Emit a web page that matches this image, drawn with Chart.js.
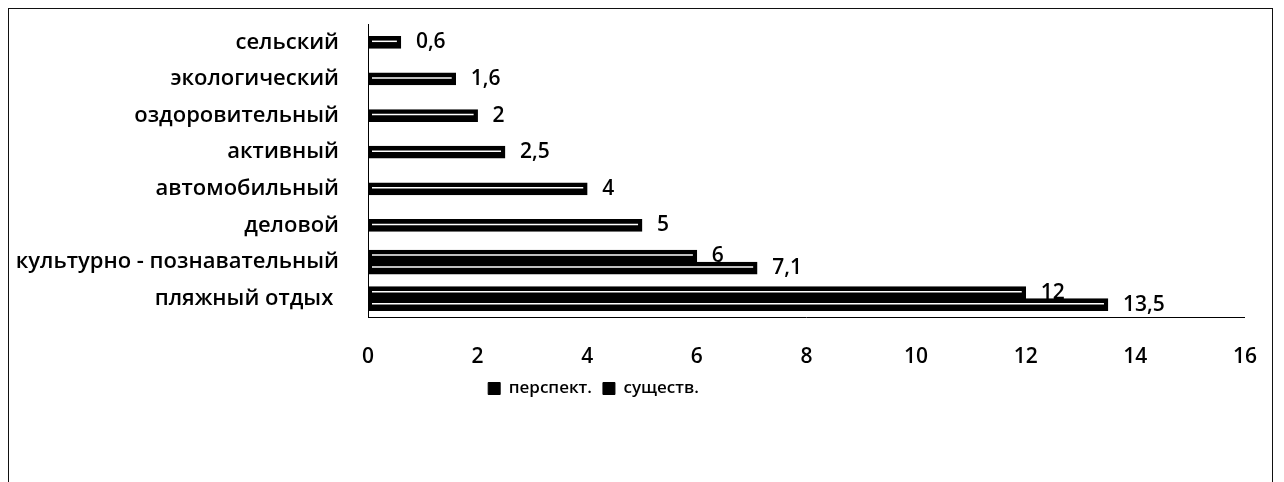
<!DOCTYPE html>
<html>
<head>
<meta charset="utf-8">
<script src="https://cdn.jsdelivr.net/npm/chart.js@4.4.1/dist/chart.umd.min.js"></script>
<style>
  html, body { margin: 0; padding: 0; background: #fff; overflow: hidden; }
  #frame { position: absolute; left: 8px; top: 8px; width: 1265px; height: 500px; border: 1px solid #111; box-sizing: border-box; }
  /* canvas starts a bit left of the page so the legend centres where the original has it */
  #wrap { position: absolute; left: -58px; top: 0; width: 1342px; height: 482px; }
</style>
</head>
<body>
<div id="frame"></div>
<div id="wrap"><canvas id="chart" width="1342" height="482"></canvas></div>
<script>
// data (top row first)
const categories = ['сельский', 'экологический', 'оздоровительный', 'активный',
  'автомобильный', 'деловой', 'культурно - познавательный', 'пляжный отдых '];
const existingValues = [0.6, 1.6, 2, 2.5, 4, 5, 6, 12];
const perspectiveValues = [null, null, null, null, null, null, 7.1, 13.5];
const xTickValues = [0, 2, 4, 6, 8, 10, 12, 14, 16];

const FONT = '"Open Sans", "DejaVu Sans", sans-serif';
const FS = 21;
const WEIGHT = '600';
const OFFSET = 58; // canvas shift, see css

// value labels at the end of each bar, comma as decimal mark
const valueLabels = {
  id: 'valueLabels',
  afterDatasetsDraw(chart) {
    const ctx = chart.ctx;
    ctx.save();
    chart.data.datasets.forEach((ds, i) => {
      const meta = chart.getDatasetMeta(i);
      meta.data.forEach((bar, j) => {
        const v = ds.data[j];
        if (v == null) return;
        // thin white streak inside the bar, like the scanned original
        ctx.strokeStyle = '#fff'; ctx.lineWidth = 1.5;
        ctx.beginPath(); ctx.moveTo(bar.base + 4, bar.y - 1); ctx.lineTo(bar.x - 4, bar.y - 1); ctx.stroke();
        ctx.fillStyle = '#000';
        ctx.font = WEIGHT + ' ' + FS + 'px ' + FONT;
        ctx.textAlign = 'left'; ctx.textBaseline = 'middle';
        ctx.fillText(String(v).replace('.', ','), bar.x + 15, bar.y);
      });
    });
    ctx.restore();
  }
};

Chart.defaults.font.family = FONT;
Chart.defaults.font.size = FS;
Chart.defaults.font.weight = WEIGHT;
Chart.defaults.color = '#000';

new Chart(document.getElementById('chart'), {
  type: 'bar',
  data: {
    labels: categories,
    datasets: [
      { label: 'существ.', data: existingValues, backgroundColor: '#000', borderColor: '#000', borderWidth: 1, barThickness: 12, skipNull: true },
      { label: 'перспект.', data: perspectiveValues, backgroundColor: '#000', borderColor: '#000', borderWidth: 1, barThickness: 12, skipNull: true }
    ]
  },
  options: {
    indexAxis: 'y',
    responsive: false,
    animation: false,
    layout: { padding: { top: 24, right: 39, bottom: 75, left: 0 } },
    scales: {
      x: {
        min: 0, max: 16,
        afterBuildTicks: s => { s.ticks = xTickValues.map(v => ({ value: v })); },
        afterFit: s => { s.height = 52; },
        grid: { display: false, drawTicks: false },
        border: { display: true, color: '#000', width: 1 },
        ticks: { padding: 27, color: '#000' }
      },
      y: {
        afterFit: s => { s.width = 368 + OFFSET; s.paddingTop = 0; s.paddingBottom = 0; },
        grid: { display: false, drawTicks: false },
        border: { display: true, color: '#000', width: 1 },
        ticks: { padding: 29, color: '#000', font: { size: 22 } }
      }
    },
    plugins: {
      legend: {
        position: 'bottom',
        reverse: true,
        labels: { boxWidth: 12, boxHeight: 12, padding: 11, color: '#000', font: { size: 17, weight: WEIGHT } }
      },
      tooltip: { enabled: false }
    }
  },
  plugins: [valueLabels]
});
</script>
</body>
</html>
